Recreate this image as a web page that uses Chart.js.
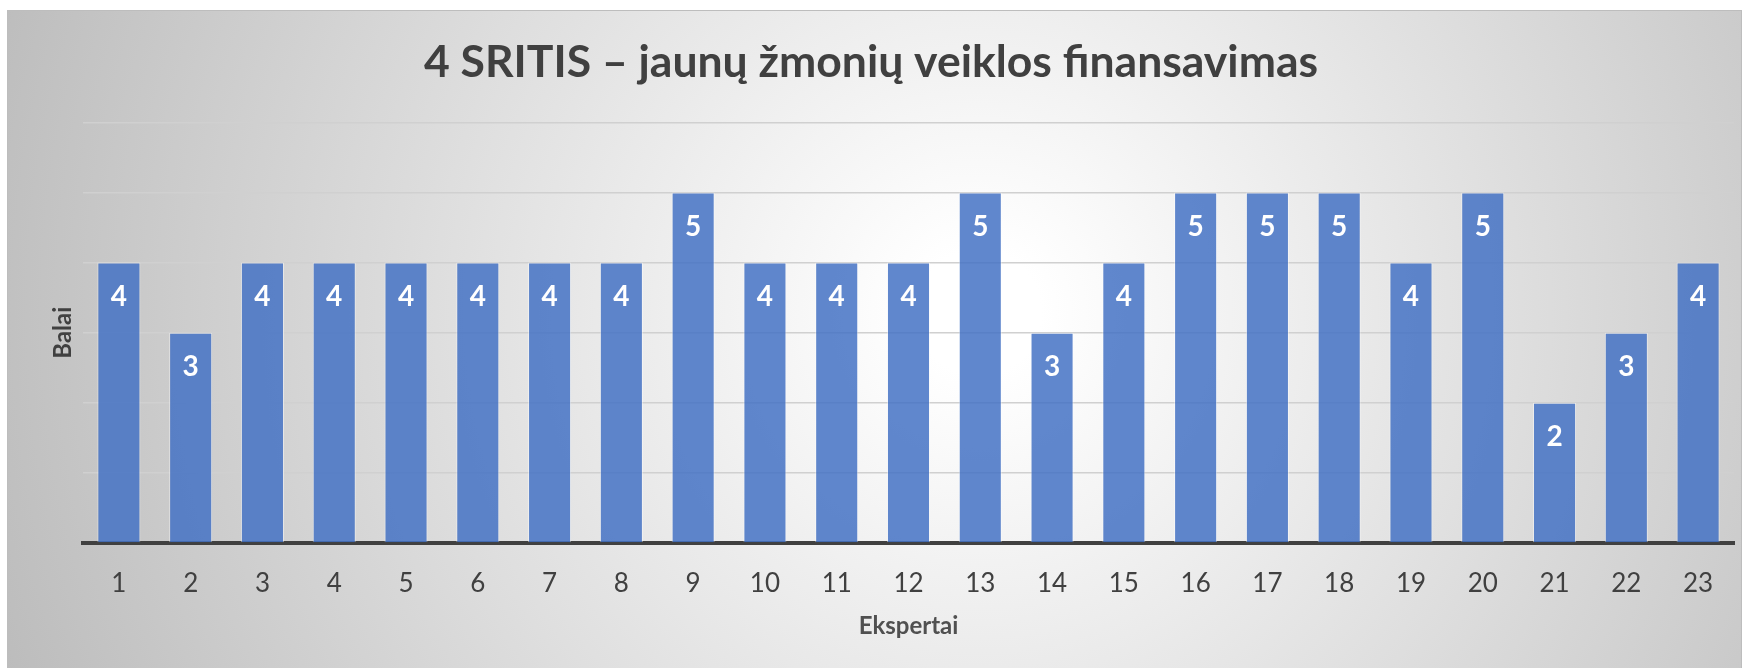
<!DOCTYPE html>
<html>
<head>
<meta charset="utf-8">
<script src="https://cdn.jsdelivr.net/npm/chart.js@4"></script>
<style>
  html, body { margin: 0; padding: 0; background: #fff; width: 1749px; height: 668px; overflow: hidden; }
  #box {
    position: absolute; left: 7px; top: 10px; width: 1733px; height: 670px;
    border: 1px solid #bdbdbd;
    background: radial-gradient(circle farthest-corner at 56% 45%, #ffffff 0%, #ffffff 6%, #bcbcbc 100%);
  }
  #wrap { position: absolute; left: 0; top: 0; width: 1733px; height: 658px; }
</style>
</head>
<body>
<div id="box"><div id="wrap"><canvas id="bar-chart"></canvas></div></div>
<script>
const experts = ["1", "2", "3", "4", "5", "6", "7", "8", "9", "10", "11", "12",
  "13", "14", "15", "16", "17", "18", "19", "20", "21", "22", "23"];
const scores = [4, 3, 4, 4, 4, 4, 4, 4, 5, 4, 4, 4, 5, 3, 4, 5, 5, 5, 4, 5, 2, 3, 4];
const yMax = 6;

// white value labels inside the top of each bar
const barLabels = {
  id: "barLabels",
  afterDatasetsDraw(chart) {
    const ctx = chart.ctx;
    const meta = chart.getDatasetMeta(0);
    ctx.save();
    ctx.fillStyle = "#ffffff";
    ctx.font = "bold 28px Lato";
    ctx.textAlign = "center";
    ctx.textBaseline = "middle";
    meta.data.forEach((bar, i) => {
      ctx.fillText(String(scores[i]), bar.x, bar.y + 34);
    });
    ctx.restore();
  },
};

document.addEventListener("DOMContentLoaded", () => {
  const ctx = document.getElementById("bar-chart").getContext("2d");
  new Chart(ctx, {
    type: "bar",
    data: {
      labels: experts,
      datasets: [
        {
          label: "Balai",
          data: scores,
          backgroundColor: "rgba(68, 114, 196, 0.85)",
          borderColor: "rgba(255, 255, 255, 0.45)",
          borderWidth: 1,
          barPercentage: 0.6,
          categoryPercentage: 1,
        },
      ],
    },
    plugins: [barLabels],
    options: {
      responsive: true,
      maintainAspectRatio: false,
      animation: false,
      layout: { padding: { left: 0, right: 7, top: 0, bottom: 0 } },
      scales: {
        x: {
          grid: { display: false },
          border: { display: true, color: "#404040", width: 4 },
          ticks: { color: "#404040", font: { family: "Lato", size: 26 }, padding: 17 },
          title: {
            display: true,
            text: "Ekspertai",
            color: "#505050",
            font: { family: "Lato", size: 24, weight: "bold" },
            padding: { top: 0, bottom: 28 },
          },
          afterFit: (scale) => { scale.height = 126; },
        },
        y: {
          min: 0,
          max: yMax,
          ticks: { display: false, stepSize: 1 },
          grid: { color: "#d0d0d0", lineWidth: 1.5, drawTicks: false },
          border: { display: false },
          title: {
            display: true,
            text: "Balai",
            color: "#404040",
            font: { family: "Lato", size: 24, weight: "bold" },
            padding: { top: 41, bottom: 0 },
          },
          afterFit: (scale) => { scale.width = 75; },
        },
      },
      plugins: {
        legend: { display: false },
        tooltip: { enabled: false },
        title: {
          display: true,
          text: "4 SRITIS – jaunų žmonių veiklos finansavimas",
          color: "#404040",
          font: { family: "Lato", size: 44.5, weight: "bold" },
          padding: { top: 25, bottom: 33 },
        },
      },
    },
  });
});
</script>
</body>
</html>
